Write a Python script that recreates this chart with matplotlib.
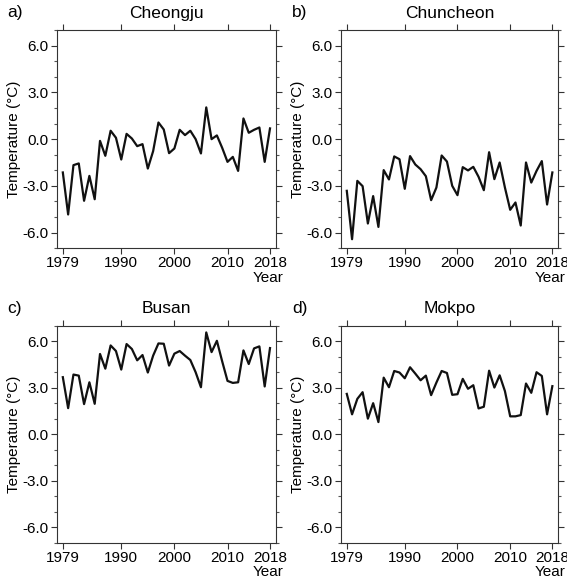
import numpy as np
import matplotlib
matplotlib.use("Agg")
import matplotlib.pyplot as plt
from matplotlib.ticker import MultipleLocator

plt.rcParams['font.family'] = ['Liberation Sans', 'DejaVu Sans']

years = np.arange(1979, 2019)

cheongju = [-2.14, -4.84, -1.67, -1.56, -3.96, -2.36, -3.86, -0.11, -1.07, 0.54,
            0.09, -1.31, 0.34, 0.04, -0.45, -0.32, -1.89, -0.77, 1.07, 0.62,
            -0.90, -0.60, 0.60, 0.26, 0.54, 0.00, -0.92, 2.04, 0.00, 0.24,
            -0.56, -1.46, -1.14, -2.04, 1.33, 0.41, 0.60, 0.75, -1.46, 0.69]

chuncheon = [-3.32, -6.43, -2.68, -3.02, -5.42, -3.66, -5.64, -1.99, -2.59, -1.11,
             -1.29, -3.19, -1.09, -1.63, -1.93, -2.38, -3.92, -3.11, -1.05, -1.44,
             -3.00, -3.60, -1.80, -2.01, -1.78, -2.42, -3.28, -0.84, -2.57, -1.50,
             -3.11, -4.54, -4.07, -5.55, -1.50, -2.79, -2.04, -1.41, -4.20, -2.14]

busan = [3.69, 1.69, 3.86, 3.79, 1.95, 3.36, 1.97, 5.19, 4.24, 5.74,
         5.38, 4.18, 5.83, 5.51, 4.78, 5.12, 3.99, 5.08, 5.87, 5.85,
         4.44, 5.21, 5.38, 5.08, 4.80, 4.01, 3.04, 6.58, 5.31, 6.04,
         4.71, 3.45, 3.32, 3.36, 5.42, 4.54, 5.55, 5.68, 3.09, 5.57]

mokpo = [2.61, 1.29, 2.29, 2.72, 1.01, 2.01, 0.79, 3.66, 3.04, 4.09,
         3.99, 3.62, 4.33, 3.92, 3.49, 3.79, 2.53, 3.34, 4.09, 3.96,
         2.55, 2.59, 3.58, 2.94, 3.17, 1.67, 1.78, 4.11, 3.02, 3.81,
         2.79, 1.16, 1.16, 1.24, 3.28, 2.68, 4.01, 3.77, 1.29, 3.11]

stations = ["Cheongju", "Chuncheon", "Busan", "Mokpo"]
letters = ["a)", "b)", "c)", "d)"]
series = [cheongju, chuncheon, busan, mokpo]
year_ticks = [1979, 1990, 2000, 2010, 2018]
temp_ticks = [-6.0, -3.0, 0.0, 3.0, 6.0]

fig = plt.figure(figsize=(5.67, 5.81), dpi=100)

# axes positions in figure fractions (left, bottom, width, height)
pos = [(0.1005, 0.573, 0.386, 0.375),
       (0.6014, 0.573, 0.383, 0.375),
       (0.1005, 0.066, 0.386, 0.373),
       (0.6014, 0.066, 0.383, 0.373)]

for i in range(4):
    ax = fig.add_axes(pos[i])
    ax.plot(years, series[i], color='#111111', lw=1.6)
    ax.set_xlim(1977.9, 2019.1)
    ax.set_ylim(-7, 7)
    ax.set_xticks(year_ticks)
    ax.set_yticks(temp_ticks)
    ax.set_yticklabels(["%.1f" % t for t in temp_ticks])
    ax.yaxis.set_minor_locator(MultipleLocator(1.0))
    ax.tick_params(axis='both', which='major', direction='out', length=4.5,
                   width=0.8, color='#333333', labelsize=11, pad=1.5,
                   top=True, right=True)
    ax.tick_params(axis='y', which='minor', direction='out', length=2.5,
                   width=0.8, color='#555555', right=True)
    for sp in ax.spines.values():
        sp.set_linewidth(0.8)
        sp.set_color('#333333')
    ax.set_ylabel("Temperature (°C)", fontsize=11, labelpad=1)
    ax.set_title(stations[i], fontsize=12.5, pad=9)
    ax.text(1.035, -0.135, "Year", transform=ax.transAxes, ha='right',
            va='center', fontsize=11)
    ax.text(-0.225, 1.08, letters[i], transform=ax.transAxes, ha='left',
            va='center', fontsize=12.5)

fig.savefig("out.png", dpi=100)
